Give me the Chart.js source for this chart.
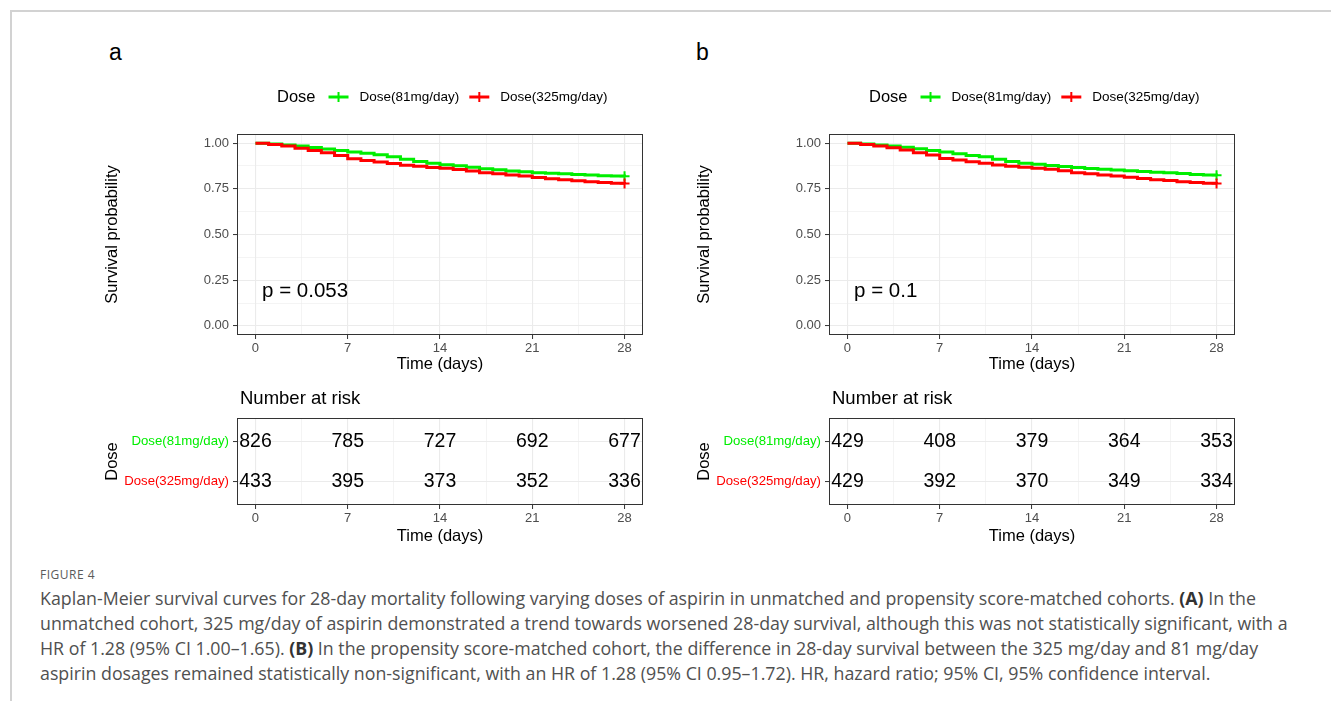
<!DOCTYPE html>
<html>
<head>
<meta charset="utf-8">
<script src="https://cdn.jsdelivr.net/npm/chart.js@4.4.1/dist/chart.umd.min.js"></script>
<style>
  html, body { margin: 0; padding: 0; background: #fff; }
  body { width: 1331px; height: 701px; position: relative; overflow: hidden; font-family: "Liberation Sans", Arial, sans-serif; }
  #frame { position: absolute; left: 10px; top: 10px; width: 1400px; height: 800px; border-top: 2px solid #d2d2d2; border-left: 2px solid #d2d2d2; }
  canvas { position: absolute; }
  .tag { position: absolute; font-size: 23px; color: #000; line-height: 26px; }
  #caption { position: absolute; left: 40px; top: 566px; white-space: nowrap; font-family: "Open Sans", sans-serif; color: #505050; }
  #caption .fig { font-size: 12px; line-height: 18px; letter-spacing: 0.5px; color: #5a5a5a; margin-bottom: 2px; }
  #caption .body { font-size: 17.8px; line-height: 25px; }
  #caption b { color: #333; }
</style>
</head>
<body>
<div id="frame"></div>
<div class="tag" style="left:109px; top:39px;">a</div>
<div class="tag" style="left:696px; top:39px;">b</div>

<canvas id="km-a" width="565" height="310" style="left:95px; top:70px;"></canvas>
<canvas id="km-b" width="565" height="310" style="left:687px; top:70px;"></canvas>
<canvas id="risk-a" width="565" height="165" style="left:95px; top:385px;"></canvas>
<canvas id="risk-b" width="565" height="165" style="left:687px; top:385px;"></canvas>

<div id="caption">
  <div class="fig">FIGURE 4</div>
  <div class="body">Kaplan-Meier survival curves for 28-day mortality following varying doses of aspirin in unmatched and propensity score-matched cohorts. <b>(A)</b> In the<br>unmatched cohort, 325 mg/day of aspirin demonstrated a trend towards worsened 28-day survival, although this was not statistically significant, with a<br>HR of 1.28 (95% CI 1.00–1.65). <b>(B)</b> In the propensity score-matched cohort, the difference in 28-day survival between the 325 mg/day and 81 mg/day<br>aspirin dosages remained statistically non-significant, with an HR of 1.28 (95% CI 0.95–1.72). HR, hazard ratio; 95% CI, 95% confidence interval.</div>
</div>

<script>
'use strict';

var timeTicks = [0, 7, 14, 21, 28];
var survTicks = [0, 0.25, 0.5, 0.75, 1];
var doseGroups = ['Dose(81mg/day)', 'Dose(325mg/day)'];
var groupColors = ['#00EE00', '#FF0000'];

var kmDays = [0, 1, 2, 3, 4, 5, 6, 7, 8, 9, 10, 11, 12, 13, 14, 15, 16, 17, 18, 19, 20, 21, 22, 23, 24, 25, 26, 27, 28];

// panel a (unmatched)
var survA81  = [1.000, 0.995, 0.990, 0.984, 0.976, 0.968, 0.960, 0.952, 0.944, 0.936, 0.925, 0.912, 0.900, 0.890, 0.882, 0.876, 0.868, 0.860, 0.854, 0.848, 0.843, 0.838, 0.835, 0.832, 0.829, 0.826, 0.822, 0.820, 0.819];
var survA325 = [1.000, 0.993, 0.984, 0.972, 0.960, 0.948, 0.932, 0.915, 0.905, 0.897, 0.888, 0.879, 0.873, 0.867, 0.862, 0.856, 0.848, 0.838, 0.832, 0.826, 0.820, 0.812, 0.805, 0.800, 0.794, 0.788, 0.784, 0.781, 0.779];
// panel b (propensity matched)
var survB81  = [1.000, 0.995, 0.990, 0.984, 0.977, 0.969, 0.960, 0.952, 0.942, 0.933, 0.926, 0.912, 0.900, 0.890, 0.884, 0.878, 0.872, 0.866, 0.861, 0.857, 0.853, 0.849, 0.845, 0.841, 0.838, 0.834, 0.828, 0.825, 0.824];
var survB325 = [1.000, 0.993, 0.984, 0.975, 0.962, 0.948, 0.935, 0.916, 0.908, 0.898, 0.890, 0.880, 0.874, 0.868, 0.863, 0.857, 0.849, 0.838, 0.832, 0.826, 0.820, 0.813, 0.806, 0.800, 0.795, 0.789, 0.785, 0.781, 0.779];

var riskA81  = [826, 785, 727, 692, 677];
var riskA325 = [433, 395, 373, 352, 336];
var riskB81  = [429, 408, 379, 364, 353];
var riskB325 = [429, 392, 370, 349, 334];

var pLabels = ['p = 0.053', 'p = 0.1'];

Chart.defaults.font.family = '"Liberation Sans", Arial, sans-serif';
Chart.defaults.animation = false;
Chart.defaults.events = [];

var GRID = '#EBEBEB';
var FONT = '"Liberation Sans", Arial, sans-serif';

// minor grid lines half way between the major ticks (ggplot style)
function withMinor(major) {
  var out = [];
  major.forEach(function (v, i) {
    out.push(v);
    if (i < major.length - 1) out.push((v + major[i + 1]) / 2);
  });
  return out;
}
var xAll = withMinor(timeTicks);
var yAll = withMinor(survTicks);

function isMajor(list, v) { return list.indexOf(v) !== -1; }

function timeAxis(titlePad) {
  return {
    type: 'linear', min: -1.4, max: 29.4,
    afterBuildTicks: function (s) { s.ticks = xAll.map(function (v) { return { value: v }; }); },
    afterFit: function (s) { s.height = 45; },
    ticks: {
      autoSkip: false, maxRotation: 0, padding: 2, color: '#4D4D4D', font: { size: 13 },
      callback: function (v) { return isMajor(timeTicks, v) ? String(v) : ''; }
    },
    grid: {
      color: GRID,
      lineWidth: function (c) { return c.tick && isMajor(timeTicks, c.tick.value) ? 1.1 : 0.55; },
      tickColor: function (c) { return c.tick && isMajor(timeTicks, c.tick.value) ? '#333' : 'rgba(0,0,0,0)'; },
      tickLength: 4, tickWidth: 1
    },
    border: { display: false },
    title: { display: true, text: 'Time (days)', color: '#000', font: { size: 16.5 }, padding: { top: 0, bottom: titlePad } }
  };
}

var panelBox = {
  id: 'panelBox',
  afterDraw: function (chart) {
    var a = chart.chartArea, ctx = chart.ctx;
    ctx.save();
    ctx.strokeStyle = '#333';
    ctx.lineWidth = 1;
    ctx.strokeRect(Math.round(a.left) + 0.5, Math.round(a.top) + 0.5, Math.round(a.right - a.left) - 1, Math.round(a.bottom - a.top) - 1);
    ctx.restore();
  }
};

function kmPlugin(pText) {
  return {
    id: 'kmExtras',
    afterDraw: function (chart) {
      var ctx = chart.ctx, a = chart.chartArea;
      ctx.save();
      // legend
      var x = a.left + 40, y = 27;
      ctx.textBaseline = 'middle';
      ctx.textAlign = 'left';
      ctx.fillStyle = '#000';
      ctx.font = '16.5px ' + FONT;
      ctx.fillText('Dose', x, y);
      x += ctx.measureText('Dose').width + 13;
      doseGroups.forEach(function (g, i) {
        ctx.strokeStyle = groupColors[i];
        ctx.lineWidth = 3;
        ctx.beginPath(); ctx.moveTo(x, y); ctx.lineTo(x + 20, y); ctx.stroke();
        ctx.lineWidth = 2;
        ctx.beginPath(); ctx.moveTo(x + 10, y - 5); ctx.lineTo(x + 10, y + 5); ctx.stroke();
        x += 31;
        ctx.font = '13.5px ' + FONT;
        ctx.fillStyle = '#000';
        ctx.fillText(g, x, y);
        x += ctx.measureText(g).width + 10;
      });
      // p value
      ctx.font = '20.5px ' + FONT;
      ctx.fillText(pText, chart.scales.x.getPixelForValue(0.5), chart.scales.y.getPixelForValue(0.19));
      ctx.restore();
    }
  };
}

function kmSeries(values, color) {
  var last = kmDays.length - 1;
  return {
    data: kmDays.map(function (d, i) { return { x: d, y: values[i] }; }),
    borderColor: color, borderWidth: 3, stepped: true, fill: false,
    pointStyle: 'cross', pointBorderColor: color, pointBorderWidth: 2,
    pointRadius: function (c) { return c.dataIndex === last ? 5 : 0; }
  };
}

function makeKM(id, s81, s325, pText) {
  new Chart(document.getElementById(id), {
    type: 'line',
    data: { datasets: [kmSeries(s325, groupColors[1]), kmSeries(s81, groupColors[0])] },
    options: {
      responsive: false,
      layout: { padding: { top: 64, right: 17, left: 0, bottom: 0 } },
      plugins: { legend: { display: false }, tooltip: { enabled: false } },
      scales: {
        x: timeAxis(6),
        y: {
          type: 'linear', min: -0.05, max: 1.05,
          afterBuildTicks: function (s) { s.ticks = yAll.map(function (v) { return { value: v }; }); },
          afterFit: function (s) { s.width = 142; },
          ticks: {
            autoSkip: false, padding: 4, color: '#4D4D4D', font: { size: 13 },
            callback: function (v) { return isMajor(survTicks, v) ? v.toFixed(2) : ''; }
          },
          grid: {
            color: GRID,
            lineWidth: function (c) { return c.tick && isMajor(survTicks, c.tick.value) ? 1.1 : 0.55; },
            tickColor: function (c) { return c.tick && isMajor(survTicks, c.tick.value) ? '#333' : 'rgba(0,0,0,0)'; },
            tickLength: 4, tickWidth: 1
          },
          border: { display: false },
          title: { display: true, text: 'Survival probability', color: '#000', font: { size: 16.5 }, padding: { top: 8, bottom: 0 } }
        }
      }
    },
    plugins: [panelBox, kmPlugin(pText)]
  });
}

var riskLabels = {
  id: 'riskLabels',
  afterDraw: function (chart) {
    var ctx = chart.ctx, a = chart.chartArea;
    ctx.save();
    ctx.fillStyle = '#000';
    ctx.textBaseline = 'middle';
    ctx.textAlign = 'left';
    ctx.font = '18.5px ' + FONT;
    ctx.fillText('Number at risk', a.left + 3, 14);
    ctx.textAlign = 'center';
    ctx.font = '19.5px ' + FONT;
    chart.data.datasets.forEach(function (ds, di) {
      chart.getDatasetMeta(di).data.forEach(function (el, i) {
        ctx.fillText(String(ds.data[i].n), el.x, el.y);
      });
    });
    ctx.restore();
  }
};

function riskRow(counts, row) {
  return {
    data: counts.map(function (n, i) { return { x: timeTicks[i], y: row, n: n }; }),
    showLine: false, pointRadius: 0
  };
}

function makeRisk(id, r81, r325) {
  new Chart(document.getElementById(id), {
    type: 'line',
    data: { datasets: [riskRow(r81, 1), riskRow(r325, 2)] },
    options: {
      responsive: false,
      layout: { padding: { top: 33, right: 17, left: 0, bottom: 0 } },
      plugins: { legend: { display: false }, tooltip: { enabled: false } },
      scales: {
        x: timeAxis(4),
        y: {
          type: 'linear', min: 0.4, max: 2.6, reverse: true,
          afterBuildTicks: function (s) { s.ticks = doseGroups.map(function (g, i) { return { value: i + 1 }; }); },
          afterFit: function (s) { s.width = 142; },
          ticks: {
            autoSkip: false, padding: 4, font: { size: 13.2 },
            color: function (c) { return groupColors[c.index]; },
            callback: function (v, i) { return doseGroups[i]; }
          },
          grid: { color: GRID, lineWidth: 1.1, tickColor: '#333', tickLength: 4, tickWidth: 1 },
          border: { display: false },
          title: { display: true, text: 'Dose', color: '#000', font: { size: 16.5 }, padding: { top: 8, bottom: 0 } }
        }
      }
    },
    plugins: [panelBox, riskLabels]
  });
}

makeKM('km-a', survA81, survA325, pLabels[0]);
makeKM('km-b', survB81, survB325, pLabels[1]);
makeRisk('risk-a', riskA81, riskA325);
makeRisk('risk-b', riskB81, riskB325);
</script>
</body>
</html>
